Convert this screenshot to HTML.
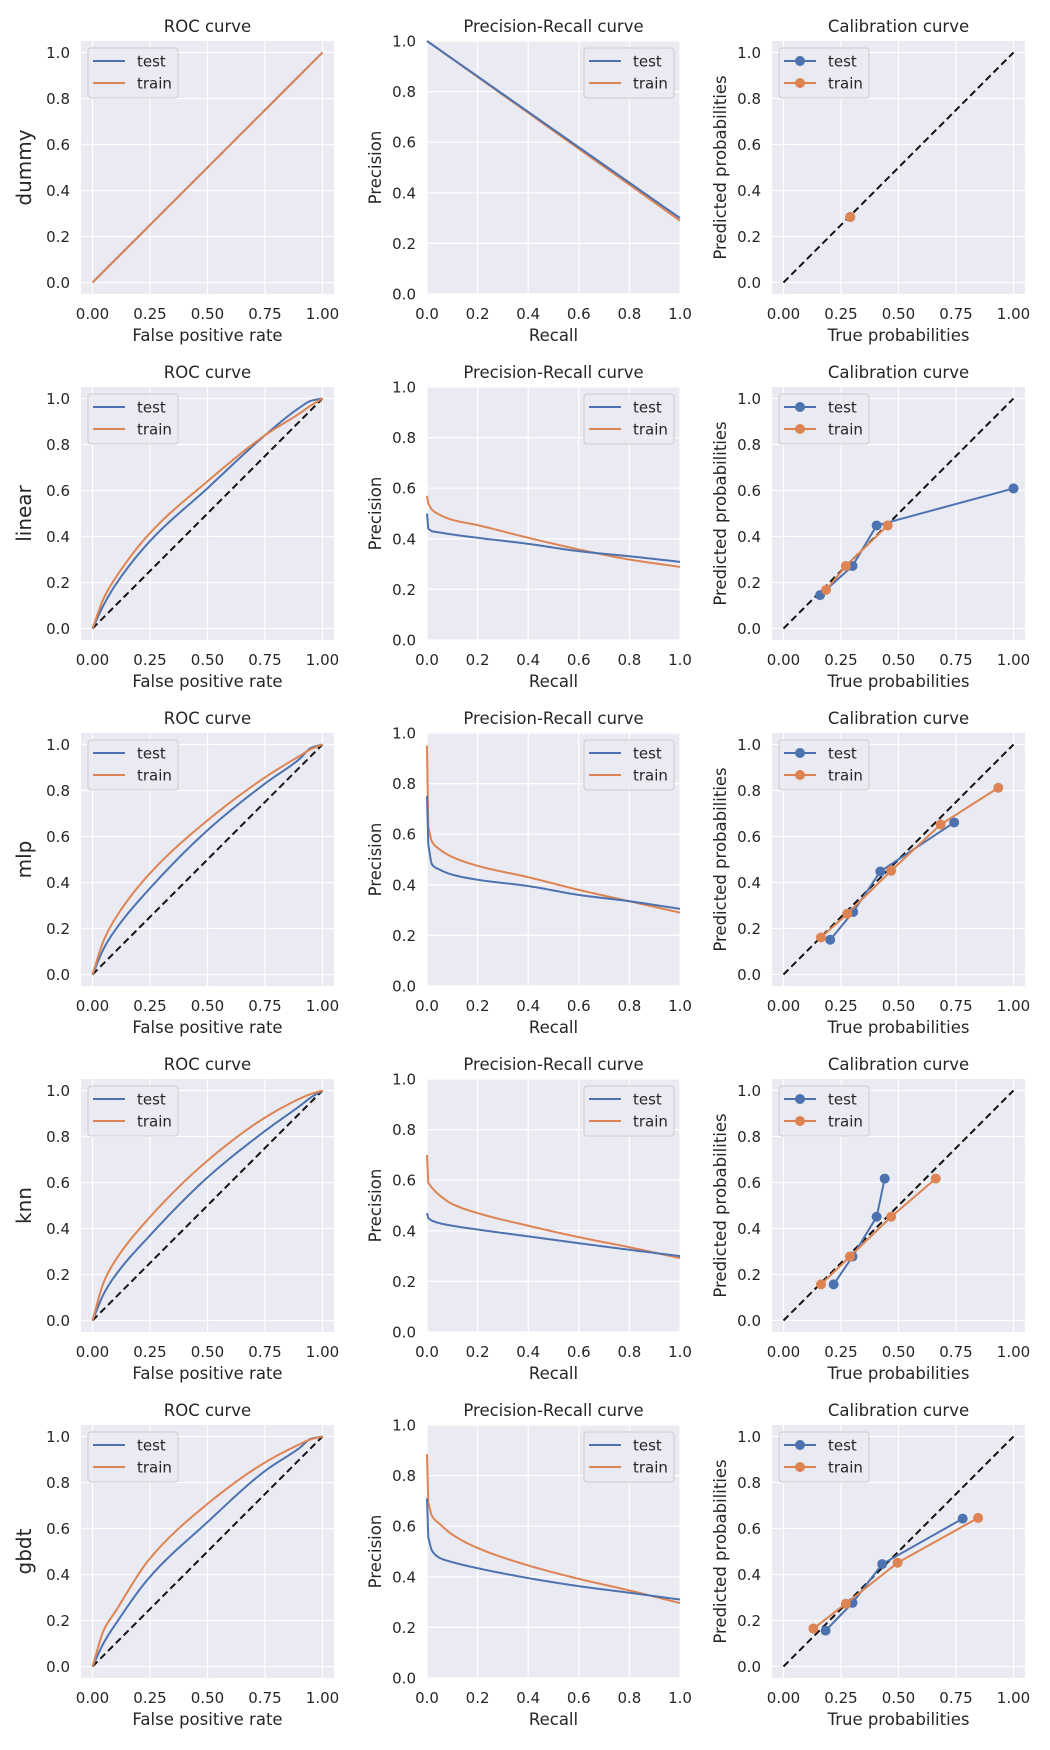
<!DOCTYPE html>
<html><head><meta charset="utf-8">
<style>
html,body{margin:0;padding:0;background:#fff;}
svg{display:block;font-family:"DejaVu Sans","Liberation Sans",sans-serif;}
</style></head>
<body>
<svg id="fig" width="1050" height="1750" viewBox="0 0 1050 1750" xmlns="http://www.w3.org/2000/svg"></svg>
<script>
// ---------- data ----------
const models = ["dummy","linear","mlp","knn","gbdt"];
const rocFpr = [0,0.05,0.1,0.25,0.5,0.75,0.9,0.95,1];
const rocTest_dummy  = [0,0.05,0.1,0.25,0.5,0.75,0.9,0.95,1];
const rocTrain_dummy = [0,0.05,0.1,0.25,0.5,0.75,0.9,0.95,1];
const rocTest_linear  = [0,0.105,0.19,0.38,0.61,0.84,0.96,0.99,1];
const rocTrain_linear = [0,0.134,0.22,0.415,0.64,0.84,0.935,0.97,1];
const rocTest_mlp  = [0,0.115,0.195,0.375,0.627,0.83,0.937,0.985,1];
const rocTrain_mlp = [0,0.151,0.245,0.44,0.67,0.857,0.95,0.98,1];
const rocTest_knn  = [0,0.118,0.197,0.37,0.622,0.824,0.932,0.97,1];
const rocTrain_knn = [0,0.169,0.262,0.45,0.695,0.882,0.964,0.985,1];
const rocTest_gbdt  = [0,0.105,0.184,0.39,0.628,0.85,0.95,0.99,1];
const rocTrain_gbdt = [0,0.16,0.24,0.47,0.707,0.887,0.966,0.988,1];

const prRecall = [0.005,0.02,0.05,0.1,0.2,0.4,0.6,0.8,1];
const prSpikeTest  = [1.0,0.50,0.75,0.47,0.71];
const prSpikeTrain = [1.0,0.57,0.95,0.70,0.885];
const prTest_dummy  = [0.9965,0.986,0.965,0.93,0.86,0.72,0.58,0.44,0.30];
const prTrain_dummy = [0.996,0.986,0.964,0.929,0.858,0.716,0.574,0.432,0.29];
const prTest_linear  = [0.44,0.43,0.425,0.417,0.404,0.38,0.351,0.331,0.309];
const prTrain_linear = [0.54,0.515,0.495,0.475,0.454,0.404,0.358,0.318,0.289];
const prTest_mlp  = [0.56,0.48,0.46,0.44,0.42,0.395,0.36,0.335,0.305];
const prTrain_mlp = [0.63,0.57,0.54,0.51,0.475,0.43,0.38,0.335,0.29];
const prTest_knn  = [0.45,0.44,0.43,0.42,0.405,0.378,0.351,0.325,0.30];
const prTrain_knn = [0.59,0.57,0.54,0.506,0.47,0.42,0.375,0.335,0.292];
const prTest_gbdt  = [0.556,0.503,0.475,0.458,0.434,0.395,0.363,0.337,0.31];
const prTrain_gbdt = [0.695,0.64,0.609,0.567,0.514,0.445,0.392,0.346,0.296];

const calTestX_dummy = [0.29], calTestY_dummy = [0.285];
const calTrainX_dummy = [0.29], calTrainY_dummy = [0.285];
const calTestX_linear = [0.159,0.30,0.405,1.0], calTestY_linear = [0.145,0.272,0.448,0.609];
const calTrainX_linear = [0.185,0.271,0.453], calTrainY_linear = [0.168,0.272,0.448];
const calTestX_mlp = [0.203,0.303,0.421,0.742], calTestY_mlp = [0.151,0.272,0.448,0.661];
const calTrainX_mlp = [0.163,0.277,0.468,0.683,0.934], calTrainY_mlp = [0.161,0.264,0.451,0.652,0.812];
const calTestX_knn = [0.218,0.30,0.405,0.44], calTestY_knn = [0.157,0.278,0.451,0.617];
const calTrainX_knn = [0.163,0.289,0.468,0.662], calTrainY_knn = [0.157,0.278,0.451,0.617];
const calTestX_gbdt = [0.183,0.30,0.429,0.779], calTestY_gbdt = [0.156,0.277,0.445,0.643];
const calTrainX_gbdt = [0.13,0.271,0.496,0.846], calTrainY_gbdt = [0.165,0.273,0.451,0.646];

const ticks4 = ["0.00","0.25","0.50","0.75","1.00"];
const ticks5 = ["0.0","0.2","0.4","0.6","0.8","1.0"];

const D = {
 dummy:{rt:rocTest_dummy,rr:rocTrain_dummy,pt:prTest_dummy,pr:prTrain_dummy,ctx:calTestX_dummy,cty:calTestY_dummy,crx:calTrainX_dummy,cry:calTrainY_dummy},
 linear:{rt:rocTest_linear,rr:rocTrain_linear,pt:prTest_linear,pr:prTrain_linear,ctx:calTestX_linear,cty:calTestY_linear,crx:calTrainX_linear,cry:calTrainY_linear},
 mlp:{rt:rocTest_mlp,rr:rocTrain_mlp,pt:prTest_mlp,pr:prTrain_mlp,ctx:calTestX_mlp,cty:calTestY_mlp,crx:calTrainX_mlp,cry:calTrainY_mlp},
 knn:{rt:rocTest_knn,rr:rocTrain_knn,pt:prTest_knn,pr:prTrain_knn,ctx:calTestX_knn,cty:calTestY_knn,crx:calTrainX_knn,cry:calTrainY_knn},
 gbdt:{rt:rocTest_gbdt,rr:rocTrain_gbdt,pt:prTest_gbdt,pr:prTrain_gbdt,ctx:calTestX_gbdt,cty:calTestY_gbdt,crx:calTrainX_gbdt,cry:calTrainY_gbdt}
};

// ---------- drawing ----------
const NS="http://www.w3.org/2000/svg";
const svg=document.getElementById("fig");
const BLUE="#4C72B0", ORANGE="#DD8452", TXT="#262626";
const colLeft=[81,427,772], rowTop=[41,387,733,1079,1425], S=253;
function mk(tag,attrs,parent){const e=document.createElementNS(NS,tag);for(const k in attrs)e.setAttribute(k,attrs[k]);(parent||svg).appendChild(e);return e;}
function txt(s,x,y,size,anchor,parent,rot){const t=mk("text",{x:x,y:y,"font-size":size,fill:TXT,"text-anchor":anchor||"middle"},parent);if(rot)t.setAttribute("transform","rotate(-90 "+x+" "+y+")");t.textContent=s;return t;}
// monotone cubic (Fritsch-Carlson) in data space, sampled densely
function monotone(xs,ys){
  const n=xs.length,d=[],m=new Array(n);
  for(let i=0;i<n-1;i++)d.push((ys[i+1]-ys[i])/(xs[i+1]-xs[i]));
  m[0]=d[0];m[n-1]=d[n-2];
  for(let i=1;i<n-1;i++){if(d[i-1]*d[i]<=0)m[i]=0;else{const h0=xs[i]-xs[i-1],h1=xs[i+1]-xs[i];const w1=2*h1+h0,w2=h1+2*h0;m[i]=(w1+w2)/(w1/d[i-1]+w2/d[i]);}}
  const out=[];
  for(let i=0;i<n-1;i++){const h=xs[i+1]-xs[i];const N=24;
    for(let k=0;k<N;k++){const t=k/N,t2=t*t,t3=t2*t;
      const y=(2*t3-3*t2+1)*ys[i]+(t3-2*t2+t)*h*m[i]+(-2*t3+3*t2)*ys[i+1]+(t3-t2)*h*m[i+1];
      out.push([xs[i]+t*h,y]);}}
  out.push([xs[n-1],ys[n-1]]);
  return out;
}
function pathOf(pts){return "M"+pts.map(q=>q[0].toFixed(2)+","+q[1].toFixed(2)).join(" L");}

function axes(r,c,kind){
  const g=mk("g",{});
  
  
  const L=colLeft[c],T=rowTop[r];
  const lo = kind==="pr"?0:-0.05, hi = kind==="pr"?1:1.05;
  const sx=v=>L+(v-lo)/(hi-lo)*S, sy=v=>T+S-(v-lo)/(hi-lo)*S;
  const bg=mk("rect",{x:L,y:T,width:S,height:S,fill:"#EAEAF2"},g);
  
  
  const xt = kind==="pr"?ticks5:ticks4;
  xt.forEach(s=>{const v=parseFloat(s),x=sx(v);
    mk("line",{x1:x,x2:x,y1:T,y2:T+S,stroke:"#fff","stroke-width":1.2},g);
    const t=txt(s,x,T+S+25,15,"middle",g);
    
    });
  ticks5.forEach(s=>{const v=parseFloat(s),y=sy(v);
    mk("line",{x1:L,x2:L+S,y1:y,y2:y,stroke:"#fff","stroke-width":1.2},g);
    const t=txt(s,L-11,y+5.5,15,"end",g);
    
    });
  const titles={roc:"ROC curve",pr:"Precision-Recall curve",cal:"Calibration curve"};
  const xl={roc:"False positive rate",pr:"Recall",cal:"True probabilities"};
  const yl={pr:"Precision",cal:"Predicted probabilities"};
  const tt=txt(titles[kind],L+S/2,T-9,16.5,"middle",g);
  
  
  const xa=txt(xl[kind],L+S/2,T+S+47,16.5,"middle",g);
  
  
  if(kind==="roc"){const ya=txt(models[r],L-50,T+S/2,20,"middle",g,true);
    
    }
  else {const ya=txt(yl[kind],L-46,T+S/2,16.5,"middle",g,true);
    
    }
  return {g,sx,sy,L,T};
}
function legend(ax,left,markers){
  const w=90,h=50,x=left?ax.L+7:ax.L+S-6-w,y=ax.T+7;
  const lg=mk("g",{},ax.g);
  
  
  mk("rect",{x:x,y:y,width:w,height:h,rx:3,fill:"#EAEAF2","fill-opacity":0.8,stroke:"#cccccc","stroke-width":1},lg);
  [["test",BLUE,13],["train",ORANGE,35]].forEach(([n,col,dy])=>{
    const e=mk("g",{},lg);
    
    
    mk("line",{x1:x+5,x2:x+37,y1:y+dy,y2:y+dy,stroke:col,"stroke-width":2},e);
    if(markers)mk("circle",{cx:x+21,cy:y+dy,r:5,fill:col},e);
    txt(n,x+49,y+dy+5.5,15,"start",e);});
}
function diag(ax){const l=mk("line",{x1:ax.sx(0),y1:ax.sy(0),x2:ax.sx(1),y2:ax.sy(1),stroke:"#111","stroke-width":2,"stroke-dasharray":"7,4"},ax.g);
  
  }

models.forEach((m,r)=>{
  const d=D[m];
  // ROC
  const a=axes(r,0,"roc");
  if(m!=="dummy")diag(a);
  [[d.rt,BLUE,"test"],[d.rr,ORANGE,"train"]].forEach(([ys,col,n])=>{
    const pts=monotone(rocFpr,ys).map(q=>[a.sx(q[0]),a.sy(q[1])]);
    const p=mk("path",{d:pathOf(pts),fill:"none",stroke:col,"stroke-width":2,"stroke-linejoin":"round"},a.g);
    
    });
  legend(a,true,false);
  // PR
  const b=axes(r,1,"pr");
  [[d.pt,prSpikeTest[r],BLUE,"test"],[d.pr,prSpikeTrain[r],ORANGE,"train"]].reverse().forEach(([ys,sp,col,n])=>{
    const body=monotone(prRecall,ys).map(q=>[b.sx(q[0]),b.sy(q[1])]);
    const pts=[[b.sx(0),b.sy(sp)]].concat(body);
    const p=mk("path",{d:pathOf(pts),fill:"none",stroke:col,"stroke-width":2,"stroke-linejoin":"round"},b.g);
    
    });
  legend(b,false,false);
  // Calibration
  const c=axes(r,2,"cal");
  diag(c);
  [[d.ctx,d.cty,BLUE,"test"],[d.crx,d.cry,ORANGE,"train"]].forEach(([xs,ys,col,n])=>{
    const pts=xs.map((x,i)=>[c.sx(x),c.sy(ys[i])]);
    if(pts.length>1){const p=mk("polyline",{points:pts.map(q=>q.join(",")).join(" "),fill:"none",stroke:col,"stroke-width":2},c.g);
      
      }
    pts.forEach(q=>{const ci=mk("circle",{cx:q[0],cy:q[1],r:5,fill:col},c.g);
      
      });
  });
  legend(c,true,true);
});
</script>
</body></html>
